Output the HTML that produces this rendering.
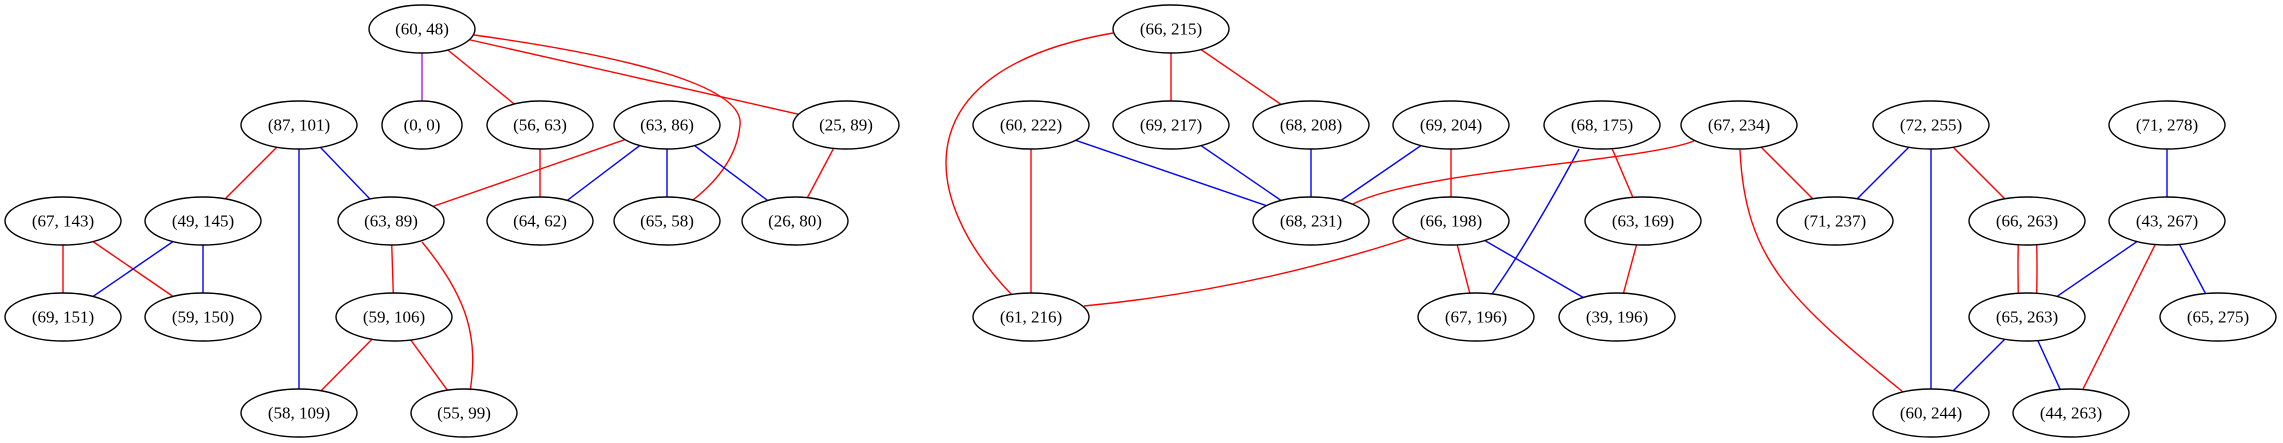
<!DOCTYPE html>
<html><head><meta charset="utf-8"><style>
html,body{margin:0;padding:0;background:#fff;}
svg{display:block;}
text{font-family:"Liberation Serif",serif;font-size:17px;text-anchor:middle;dominant-baseline:central;fill:#000;}
ellipse{fill:#fff;stroke:#000;stroke-width:1.4;}
.r{stroke:#ff0000;stroke-width:1.4;fill:none;}
.b{stroke:#0000ff;stroke-width:1.4;fill:none;}
.p{stroke:#a020f0;stroke-width:1.4;fill:none;}
</style></head><body>
<svg width="2283" height="443" viewBox="0 0 2283 443" xmlns="http://www.w3.org/2000/svg">
<line class="p" x1="422" y1="29" x2="422" y2="125"/>
<line class="r" x1="422" y1="29" x2="540" y2="125"/>
<line class="r" x1="422" y1="29" x2="846" y2="125"/>
<path class="r" d="M474,35 C620,55 745,85 740,125 C737,160 712,185 693,200"/>
<line class="r" x1="299" y1="125" x2="203" y2="221"/>
<line class="b" x1="299" y1="125" x2="391" y2="221"/>
<line class="b" x1="299" y1="125" x2="299" y2="413"/>
<line class="r" x1="667" y1="125" x2="391" y2="221"/>
<line class="b" x1="667" y1="125" x2="540" y2="221"/>
<line class="b" x1="667" y1="125" x2="667" y2="221"/>
<line class="b" x1="667" y1="125" x2="795" y2="221"/>
<line class="r" x1="540" y1="125" x2="540" y2="221"/>
<line class="r" x1="846" y1="125" x2="795" y2="221"/>
<line class="r" x1="63" y1="221" x2="63" y2="317"/>
<line class="r" x1="63" y1="221" x2="203" y2="317"/>
<line class="b" x1="203" y1="221" x2="63" y2="317"/>
<line class="b" x1="203" y1="221" x2="203" y2="317"/>
<line class="r" x1="391" y1="221" x2="394" y2="317"/>
<path class="r" d="M422,242 C470,300 478,340 470,392"/>
<line class="r" x1="394" y1="317" x2="299" y2="413"/>
<line class="r" x1="394" y1="317" x2="464" y2="413"/>
<line class="r" x1="1171" y1="29" x2="1171" y2="125"/>
<line class="r" x1="1171" y1="29" x2="1311" y2="125"/>
<path class="r" d="M1113,33 C900,70 920,200 1012,295"/>
<line class="r" x1="1031" y1="125" x2="1031" y2="317"/>
<line class="b" x1="1031" y1="125" x2="1311" y2="221"/>
<line class="b" x1="1171" y1="125" x2="1311" y2="221"/>
<line class="b" x1="1311" y1="125" x2="1311" y2="221"/>
<line class="b" x1="1451" y1="125" x2="1311" y2="221"/>
<line class="r" x1="1451" y1="125" x2="1451" y2="221"/>
<path class="r" d="M1409,238 Q1250,290 1084,306"/>
<line class="r" x1="1451" y1="221" x2="1476" y2="317"/>
<line class="b" x1="1451" y1="221" x2="1617" y2="317"/>
<path class="b" d="M1579,149 Q1530,240 1492,294"/>
<line class="r" x1="1602" y1="125" x2="1643" y2="221"/>
<line class="r" x1="1643" y1="221" x2="1617" y2="317"/>
<path class="r" d="M1694,141 C1640,162 1420,170 1353,204"/>
<line class="r" x1="1739" y1="125" x2="1835" y2="221"/>
<path class="r" d="M1740,150 C1745,260 1790,300 1903,392"/>
<line class="b" x1="1931" y1="125" x2="1835" y2="221"/>
<line class="b" x1="1931" y1="125" x2="1931" y2="413"/>
<line class="r" x1="1931" y1="125" x2="2027" y2="221"/>
<path class="r" d="M2019,221 Q2017,269 2019,317"/>
<path class="r" d="M2036,221 Q2038,269 2036,317"/>
<line class="b" x1="2167" y1="125" x2="2167" y2="221"/>
<line class="b" x1="2167" y1="221" x2="2027" y2="317"/>
<line class="b" x1="2167" y1="221" x2="2218" y2="317"/>
<line class="r" x1="2167" y1="221" x2="2071" y2="413"/>
<line class="b" x1="2027" y1="317" x2="1931" y2="413"/>
<line class="b" x1="2027" y1="317" x2="2071" y2="413"/>
<g>
<ellipse cx="422" cy="29" rx="53" ry="24"/><text x="422" y="29">(60, 48)</text>
<ellipse cx="422" cy="125" rx="40" ry="24"/><text x="422" y="125">(0, 0)</text>
<ellipse cx="299" cy="125" rx="58" ry="24"/><text x="299" y="125">(87, 101)</text>
<ellipse cx="540" cy="125" rx="53" ry="24"/><text x="540" y="125">(56, 63)</text>
<ellipse cx="667" cy="125" rx="53" ry="24"/><text x="667" y="125">(63, 86)</text>
<ellipse cx="846" cy="125" rx="53" ry="24"/><text x="846" y="125">(25, 89)</text>
<ellipse cx="63" cy="221" rx="58" ry="24"/><text x="63" y="221">(67, 143)</text>
<ellipse cx="203" cy="221" rx="58" ry="24"/><text x="203" y="221">(49, 145)</text>
<ellipse cx="391" cy="221" rx="53" ry="24"/><text x="391" y="221">(63, 89)</text>
<ellipse cx="540" cy="221" rx="53" ry="24"/><text x="540" y="221">(64, 62)</text>
<ellipse cx="667" cy="221" rx="53" ry="24"/><text x="667" y="221">(65, 58)</text>
<ellipse cx="795" cy="221" rx="53" ry="24"/><text x="795" y="221">(26, 80)</text>
<ellipse cx="63" cy="317" rx="58" ry="24"/><text x="63" y="317">(69, 151)</text>
<ellipse cx="203" cy="317" rx="58" ry="24"/><text x="203" y="317">(59, 150)</text>
<ellipse cx="394" cy="317" rx="58" ry="24"/><text x="394" y="317">(59, 106)</text>
<ellipse cx="299" cy="413" rx="58" ry="24"/><text x="299" y="413">(58, 109)</text>
<ellipse cx="464" cy="413" rx="53" ry="24"/><text x="464" y="413">(55, 99)</text>
<ellipse cx="1171" cy="29" rx="58" ry="24"/><text x="1171" y="29">(66, 215)</text>
<ellipse cx="1031" cy="125" rx="58" ry="24"/><text x="1031" y="125">(60, 222)</text>
<ellipse cx="1171" cy="125" rx="58" ry="24"/><text x="1171" y="125">(69, 217)</text>
<ellipse cx="1311" cy="125" rx="58" ry="24"/><text x="1311" y="125">(68, 208)</text>
<ellipse cx="1451" cy="125" rx="58" ry="24"/><text x="1451" y="125">(69, 204)</text>
<ellipse cx="1602" cy="125" rx="58" ry="24"/><text x="1602" y="125">(68, 175)</text>
<ellipse cx="1311" cy="221" rx="58" ry="24"/><text x="1311" y="221">(68, 231)</text>
<ellipse cx="1451" cy="221" rx="58" ry="24"/><text x="1451" y="221">(66, 198)</text>
<ellipse cx="1031" cy="317" rx="58" ry="24"/><text x="1031" y="317">(61, 216)</text>
<ellipse cx="1476" cy="317" rx="58" ry="24"/><text x="1476" y="317">(67, 196)</text>
<ellipse cx="1617" cy="317" rx="58" ry="24"/><text x="1617" y="317">(39, 196)</text>
<ellipse cx="1739" cy="125" rx="58" ry="24"/><text x="1739" y="125">(67, 234)</text>
<ellipse cx="1931" cy="125" rx="58" ry="24"/><text x="1931" y="125">(72, 255)</text>
<ellipse cx="2167" cy="125" rx="58" ry="24"/><text x="2167" y="125">(71, 278)</text>
<ellipse cx="1643" cy="221" rx="58" ry="24"/><text x="1643" y="221">(63, 169)</text>
<ellipse cx="1835" cy="221" rx="58" ry="24"/><text x="1835" y="221">(71, 237)</text>
<ellipse cx="2027" cy="221" rx="58" ry="24"/><text x="2027" y="221">(66, 263)</text>
<ellipse cx="2167" cy="221" rx="58" ry="24"/><text x="2167" y="221">(43, 267)</text>
<ellipse cx="2027" cy="317" rx="58" ry="24"/><text x="2027" y="317">(65, 263)</text>
<ellipse cx="2218" cy="317" rx="58" ry="24"/><text x="2218" y="317">(65, 275)</text>
<ellipse cx="1931" cy="413" rx="58" ry="24"/><text x="1931" y="413">(60, 244)</text>
<ellipse cx="2071" cy="413" rx="58" ry="24"/><text x="2071" y="413">(44, 263)</text>
</g>
</svg>
</body></html>
